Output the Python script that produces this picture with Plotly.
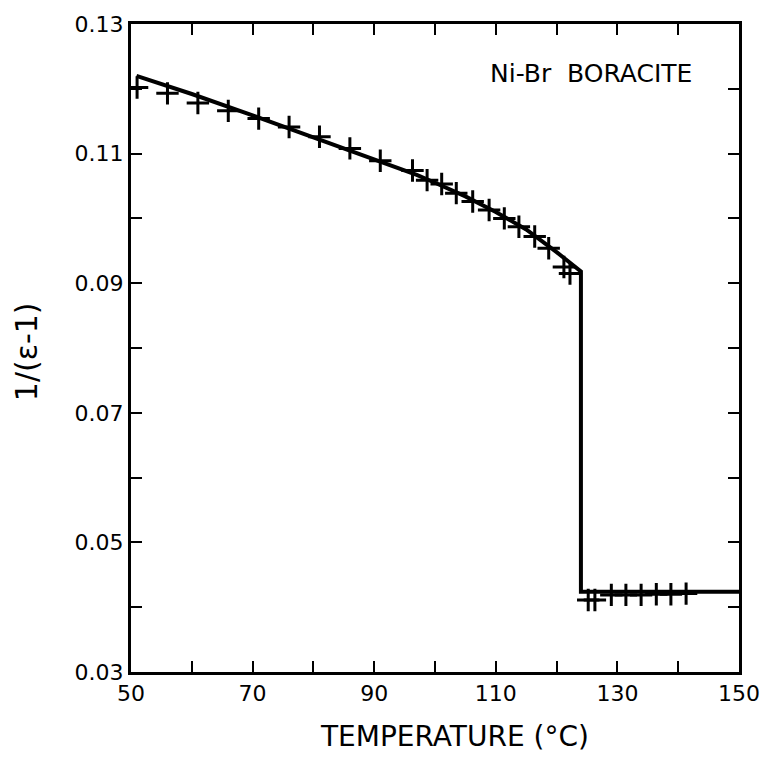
import plotly.graph_objects as go

# Fitted curve (solid line)
line_T = [50.9, 60, 70, 80, 90, 97, 100, 105, 110, 115, 120, 122, 124.0, 124.0, 150]
line_y = [0.1220, 0.1192, 0.1159, 0.1125, 0.1090, 0.1067, 0.1055, 0.1034, 0.1010,
          0.0983, 0.0948, 0.0932, 0.0918, 0.0424, 0.0424]

# Measured points (+ markers)
pts_T = [51, 56, 61, 66, 71, 76, 81, 86, 91, 96.3, 98.7, 101.1, 103.5, 106.2, 108.9,
         111.4, 113.8, 116.4, 118.7, 121.2, 122.2,
         125.2, 126.3, 129.0, 131.4, 133.9, 136.4, 138.8, 141.3]
pts_y = [0.1202, 0.1193, 0.1178, 0.1166, 0.1154, 0.1141, 0.1126, 0.1108, 0.1089, 0.1074,
         0.1059, 0.1053, 0.1039, 0.1026, 0.1013, 0.1000, 0.0987, 0.0972, 0.0954, 0.0925,
         0.0915,
         0.0411, 0.0411, 0.0419, 0.0419, 0.0419, 0.0420, 0.0420, 0.0421]

x_ticks = [50, 60, 70, 80, 90, 100, 110, 120, 130, 140, 150]
x_labels = ["50", "", "70", "", "90", "", "110", "", "130", "", "150"]
y_ticks = [0.03, 0.04, 0.05, 0.06, 0.07, 0.08, 0.09, 0.10, 0.11, 0.12, 0.13]
y_labels = ["0.03", "", "0.05", "", "0.07", "", "0.09", "", "0.11", "", "0.13"]

FONT = "DejaVu Sans"
W, H = 772, 757
ML, MR, MT, MB = 131, 26, 24, 85
PW, PH = W - ML - MR, H - MT - MB


def px_to_paper(px, py):
    return (px - ML) / PW, 1 - (py - MT) / PH


fig = go.Figure()
fig.add_trace(go.Scatter(x=line_T, y=line_y, mode="lines",
                         line=dict(color="black", width=4), showlegend=False))
fig.add_trace(go.Scatter(x=pts_T, y=pts_y, mode="markers",
                         marker=dict(symbol="cross-thin", size=16,
                                     line=dict(color="black", width=3)),
                         showlegend=False))

ax, ay = px_to_paper(700, 73)
fig.add_annotation(x=ax, y=ay, xref="paper", yref="paper", text="Ni-Br  BORACITE",
                   showarrow=False, xanchor="right", yanchor="middle",
                   font=dict(family=FONT, size=25, color="black"))

tx, ty = px_to_paper(458, 737)
fig.add_annotation(x=tx, y=ty, xref="paper", yref="paper", text="TEMPERATURE (°C)",
                   showarrow=False, xanchor="center", yanchor="middle",
                   font=dict(family=FONT, size=28, color="black"))

yx, yy = px_to_paper(25, 352)
fig.add_annotation(x=yx, y=yy, xref="paper", yref="paper", text="1/(ε-1)",
                   showarrow=False, xanchor="center", yanchor="middle", textangle=-90,
                   font=dict(family=FONT, size=30, color="black"))

fig.update_layout(
    width=W, height=H,
    margin=dict(l=ML, r=MR, t=MT, b=MB),
    paper_bgcolor="white", plot_bgcolor="white",
    font=dict(family=FONT, size=22, color="black"),
    xaxis=dict(range=[50, 150], tickvals=x_ticks, ticktext=x_labels,
               ticks="inside", ticklen=11, tickwidth=2, tickcolor="black",
               showline=True, linecolor="black", linewidth=3, mirror="ticks",
               showgrid=False, zeroline=False),
    yaxis=dict(range=[0.03, 0.13], tickvals=y_ticks, ticktext=y_labels,
               ticks="inside", ticklen=11, tickwidth=2, tickcolor="black",
               showline=True, linecolor="black", linewidth=3, mirror="ticks",
               showgrid=False, zeroline=False),
)

fig.write_html("out.html")
